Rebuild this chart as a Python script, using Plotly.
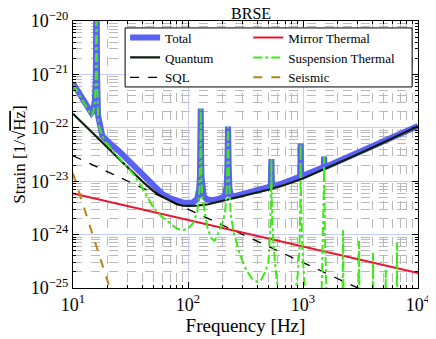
import plotly.graph_objects as go

# Noise budget curves (frequency in Hz, strain in 1/sqrt(Hz))
total_f = [10, 11, 12, 13, 14, 14.5, 15, 15.5, 15.8, 16, 16.2, 16.5, 17, 18, 20, 22, 25, 30, 35, 40,
           50, 60, 70, 80, 90, 100, 110, 120, 125, 127, 128, 129, 130, 131, 133, 137, 145, 160, 180,
           200, 210, 217, 220, 223, 226, 229, 235, 250, 300, 400, 500, 525, 531, 537, 600, 700, 800,
           900, 945, 955, 965, 1000, 1200, 1500, 1515, 1525, 1535, 1600, 2000, 3000, 5000, 7000, 10000]
total_h = [6.8e-22, 4.9e-22, 3.6e-22, 2.65e-22, 2.0e-22, 1.88e-22, 2.05e-22, 3.3e-22, 9e-22, 1e-19,
           9e-22, 1.7e-22, 1.15e-22, 7.0e-23, 5.6e-23, 4.8e-23, 3.7e-23, 2.5e-23, 1.8e-23, 1.35e-23,
           7.8e-24, 5.7e-24, 4.8e-24, 4.3e-24, 4.0e-24, 3.95e-24, 4.0e-24, 4.6e-24, 7e-24, 1.2e-23,
           2.9e-23, 2.3e-22, 2.9e-23, 1.2e-23, 6.5e-24, 5.3e-24, 4.6e-24, 4.4e-24, 4.6e-24,
           5.0e-24, 5.6e-24, 8e-24, 1.9e-23, 1.05e-22, 1.9e-23, 7.5e-24, 5.5e-24, 5.2e-24, 5.9e-24,
           6.8e-24, 7.7e-24, 8.5e-24, 2.6e-23, 8.5e-24, 8.4e-24, 9.5e-24, 1.06e-23,
           1.17e-23, 1.22e-23, 5.1e-23, 1.24e-23, 1.26e-23, 1.48e-23, 1.78e-23, 1.85e-23, 2.9e-23,
           1.85e-23, 1.88e-23, 2.33e-23, 3.4e-23, 5.5e-23, 7.6e-23, 1.08e-22]

quantum_f = [10, 15, 20, 30, 40, 50, 60, 70, 80, 90, 100, 120, 150, 200, 300, 500, 700,
             1000, 1500, 2000, 3000, 5000, 7000, 10000]
quantum_h = [1.83e-22, 7.8e-23, 4.1e-23, 1.8e-23, 1.0e-23, 6.5e-24, 5.1e-24, 4.3e-24, 3.7e-24,
             3.5e-24, 3.45e-24, 3.5e-24, 3.7e-24, 4.3e-24, 5.3e-24, 6.9e-24, 8.6e-24,
             1.12e-23, 1.65e-23, 2.15e-23, 3.2e-23, 5.3e-23, 7.5e-23, 1.07e-22]

sql_f = [10, 10000]
sql_h = [3.0e-23, 3.0e-26]

mirror_f = [10, 10000]
mirror_h = [5.9e-24, 1.9e-25]

seismic_f = [10, 25]
seismic_h = [1.4e-23, 3e-26]

susp_f = [10, 11, 12, 13, 14, 14.5, 15, 15.5, 15.8, 16, 16.2, 16.5, 17, 18, 19, 20, 22, 25, 29, 34,
          40, 50, 60, 70, 80, 90, 100, 110, 120, 125, 127, 128, 129, 130, 131, 133, 137, 140, 148,
          160, 170, 185, 200, 210, 217, 220, 223, 226, 229, 235, 250, 280, 320, 360, 400, 430, 470,
          500, 520, 528, 531, 534, 540, 548, 575, 610, 860, 900, 930, 950, 955, 960, 985, 1010,
          1040, 1450, 1500, 1520, 1525, 1530, 1550, 1600, 2200, 2229, 2260, 3040, 3070, 3100,
          4030, 4064, 4100, 5200, 5240, 5280, 6520, 6560, 6600, 10000]
susp_h = [6.5e-22, 4.6e-22, 3.4e-22, 2.5e-22, 1.85e-22, 1.7e-22, 1.9e-22, 3.2e-22, 9e-22, 1e-19,
          9e-22, 1.6e-22, 1.0e-22, 7.0e-23, 5.6e-23, 4.8e-23, 3.8e-23, 2.8e-23, 1.95e-23, 1.3e-23,
          7.5e-24, 3.2e-24, 2.1e-24, 1.6e-24, 1.3e-24, 1.2e-24, 1.3e-24, 1.6e-24, 2.6e-24, 5.5e-24,
          1.1e-23, 2.8e-23, 2.3e-22, 2.8e-23, 1.1e-23, 5e-24, 3.5e-24, 2.8e-24, 1.3e-24,
          8.5e-25, 7.6e-25, 1.1e-24, 1.7e-24, 2.6e-24, 6.5e-24, 1.8e-23, 1.05e-22, 1.8e-23, 6e-24,
          2.4e-24, 1.1e-24, 4.5e-25, 2.2e-25, 1.5e-25, 1.3e-25, 1.4e-25, 2.0e-25,
          3.0e-25, 1.2e-24, 5e-24, 2.6e-23, 5e-24, 1.5e-24, 8.9e-25, 2.5e-25, 8e-26, 8e-26,
          1.8e-25, 5e-25, 5e-24, 5.1e-23, 5e-24, 6e-25, 2.5e-25,
          8e-26, 8e-26, 1e-24, 8e-24, 2.9e-23, 8e-24, 1e-24, 8e-26, 3e-26, 1.2e-24, 3e-26,
          3e-26, 7.6e-25, 3e-26, 3e-26, 4.5e-25, 3e-26, 3e-26, 2.2e-25, 3e-26,
          3e-26, 7.1e-25, 3e-26, 3e-26]

x_tickvals = [10, 100, 1000, 10000]
x_ticktext = ["10<sup>1</sup>", "10<sup>2</sup>", "10<sup>3</sup>", "10<sup>4</sup>"]
y_tickvals = [1e-25, 1e-24, 1e-23, 1e-22, 1e-21, 1e-20]
y_ticktext = ["10<sup>−25</sup>", "10<sup>−24</sup>", "10<sup>−23</sup>",
              "10<sup>−22</sup>", "10<sup>−21</sup>", "10<sup>−20</sup>"]

# minor grid positions: 2..9 inside each decade
x_minor = [m * 10.0 ** e for e in range(1, 4) for m in range(2, 10)]
y_minor = [m * 10.0 ** e for e in range(-25, -20) for m in range(2, 10)]

FONT = "Liberation Serif, DejaVu Serif, serif"

fig = go.Figure()
fig.add_trace(go.Scatter(x=total_f, y=total_h, name="Total", mode="lines", legend="legend",
                         line=dict(color="rgb(90,96,242)", width=6)))
fig.add_trace(go.Scatter(x=quantum_f, y=quantum_h, name="Quantum", mode="lines", legend="legend",
                         line=dict(color="rgb(15,30,15)", width=2.2)))
fig.add_trace(go.Scatter(x=sql_f, y=sql_h, name="SQL", mode="lines", legend="legend",
                         line=dict(color="black", width=1.3, dash="dash")))
fig.add_trace(go.Scatter(x=mirror_f, y=mirror_h, name="Mirror Thermal", mode="lines", legend="legend2",
                         line=dict(color="rgb(235,20,45)", width=2)))
fig.add_trace(go.Scatter(x=susp_f, y=susp_h, name="Suspension Thermal", mode="lines", legend="legend2",
                         line=dict(color="rgb(60,235,20)", width=2, dash="dashdot")))
fig.add_trace(go.Scatter(x=seismic_f, y=seismic_h, name="Seismic", mode="lines", legend="legend2",
                         line=dict(color="rgb(185,130,20)", width=2, dash="dash")))

axis_common = dict(
    type="log", showline=True, linecolor="black", linewidth=1, mirror="allticks",
    ticks="inside", ticklen=6, tickcolor="black", automargin=False,
    showgrid=True, gridcolor="rgb(200,205,245)", gridwidth=1,
    tickfont=dict(family=FONT, size=18, color="black"),
    zeroline=False,
)

fig.update_xaxes(range=[1, 4], tickvals=x_tickvals, ticktext=x_ticktext,
                 minor=dict(tickvals=x_minor, showgrid=True, gridcolor="rgb(185,185,185)",
                            griddash="dash", gridwidth=1, ticks="inside", ticklen=3,
                            tickcolor="black"),
                 title=dict(text="Frequency [Hz]", font=dict(family=FONT, size=19, color="black"),
                            standoff=4),
                 **axis_common)
fig.update_yaxes(range=[-25, -20], tickvals=y_tickvals, ticktext=y_ticktext,
                 minor=dict(tickvals=y_minor, showgrid=True, gridcolor="rgb(185,185,185)",
                            griddash="dash", gridwidth=1, ticks="inside", ticklen=3,
                            tickcolor="black"),
                 title=dict(text="Strain [1/√<span style='text-decoration:overline'>Hz</span>]",
                            font=dict(family=FONT, size=17, color="black"), standoff=0),
                 **axis_common)

# the page body adds an 8px offset, so the figure is 8px smaller than the window
legend_font = dict(family=FONT, size=13, color="black")
fig.update_layout(
    width=428, height=331,
    margin=dict(l=65, r=18, t=13, b=51),
    paper_bgcolor="white", plot_bgcolor="white",
    title=dict(text="BRSE", x=0.568, xanchor="center", y=0.985, yanchor="middle",
               font=dict(family=FONT, size=16, color="black")),
    legend=dict(x=0.151, y=0.994, xanchor="left", yanchor="top", bgcolor="rgba(0,0,0,0)",
                borderwidth=0, font=legend_font, tracegroupgap=0, itemwidth=30),
    legend2=dict(x=0.508, y=0.994, xanchor="left", yanchor="top", bgcolor="rgba(0,0,0,0)",
                 borderwidth=0, font=legend_font, tracegroupgap=0, itemwidth=30),
    shapes=[dict(type="rect", xref="paper", yref="paper", x0=0.151, x1=0.983, y0=0.753, y1=0.974,
                 line=dict(color="black", width=1), fillcolor="white", layer="above")],
    showlegend=True,
)

fig.write_html("out.html")
